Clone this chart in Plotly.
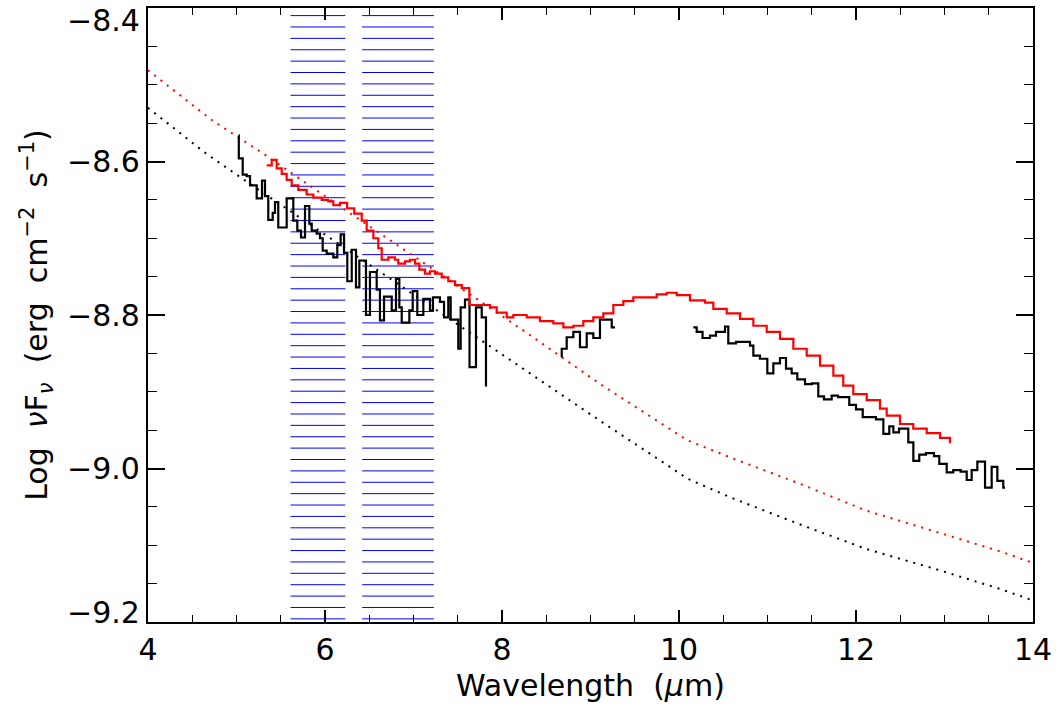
import numpy as np
import plotly.graph_objects as go

# ---- Dotted model curves (photospheres) ----
model_black_wl = [4.00, 4.66, 5.10, 6.06, 6.95, 7.85, 8.30, 9.11, 9.86, 10.09, 10.61, 11.37, 12.12, 12.87, 13.63, 14.00]
model_black_f = [-8.530, -8.590, -8.625, -8.700, -8.769, -8.840, -8.874, -8.938, -8.995, -9.013, -9.039, -9.073, -9.105, -9.130, -9.157, -9.172]
model_red_wl = [4.00, 4.72, 5.32, 6.06, 7.10, 8.29, 9.11, 9.86, 10.09, 10.61, 11.37, 12.12, 12.87, 13.63, 14.00]
model_red_f = [-8.481, -8.546, -8.591, -8.650, -8.731, -8.824, -8.890, -8.946, -8.963, -8.987, -9.020, -9.055, -9.081, -9.108, -9.123]

# ---- Black spectrum, segment 1 (bin left edges) ----
blk1_wl = [5.025, 5.026, 5.070, 5.115, 5.153, 5.228, 5.288, 5.322, 5.359, 5.409, 5.435, 5.472,
           5.567, 5.642, 5.687, 5.729, 5.774, 5.823, 5.850, 5.906, 5.944, 5.974, 6.019, 6.094,
           6.139, 6.177, 6.215, 6.252, 6.302, 6.350, 6.388, 6.463, 6.508, 6.584, 6.621, 6.667,
           6.754, 6.802, 6.840, 6.867, 6.953, 6.991, 7.043, 7.111, 7.186, 7.220, 7.299, 7.345,
           7.393, 7.420, 7.506, 7.533, 7.582, 7.633, 7.706, 7.771, 7.819]
blk1_f = [-8.566, -8.596, -8.617, -8.619, -8.631, -8.648, -8.625, -8.645, -8.676, -8.667, -8.653, -8.686,
          -8.648, -8.677, -8.690, -8.699, -8.658, -8.681, -8.690, -8.694, -8.700, -8.716, -8.720, -8.725,
          -8.709, -8.695, -8.719, -8.756, -8.715, -8.764, -8.729, -8.800, -8.744, -8.767, -8.807, -8.776,
          -8.794, -8.753, -8.790, -8.810, -8.794, -8.769, -8.800, -8.779, -8.794, -8.777, -8.783, -8.803,
          -8.777, -8.806, -8.844, -8.790, -8.780, -8.868, -8.790, -8.803, -8.893]

# ---- Black spectrum, segment 2 ----
blk2_wl = [8.663, 8.675, 8.731, 8.806, 8.881, 8.957, 9.032, 9.107, 9.240, 9.277]
blk2_f = [-8.854, -8.844, -8.829, -8.822, -8.842, -8.824, -8.830, -8.806, -8.816, -8.816]

# ---- Black spectrum, segment 3 ----
blk3_wl = [10.162, 10.200, 10.266, 10.350, 10.418, 10.520, 10.557, 10.644, 10.802, 10.840, 10.915,
           10.998, 11.066, 11.141, 11.209, 11.273, 11.337, 11.424, 11.503, 11.574, 11.638, 11.725,
           11.797, 11.924, 12.000, 12.076, 12.226, 12.309, 12.376, 12.422, 12.486, 12.591, 12.648,
           12.715, 12.791, 12.881, 12.941, 13.025, 13.099, 13.183, 13.251, 13.307, 13.371, 13.458,
           13.533, 13.597, 13.664, 13.684]
blk3_f = [-8.816, -8.822, -8.830, -8.827, -8.822, -8.815, -8.837, -8.835, -8.840, -8.853, -8.857,
          -8.876, -8.863, -8.856, -8.870, -8.876, -8.884, -8.890, -8.889, -8.906, -8.910, -8.905,
          -8.907, -8.917, -8.923, -8.933, -8.936, -8.955, -8.945, -8.953, -8.948, -8.966, -8.990,
          -8.982, -8.980, -8.984, -8.994, -9.005, -9.002, -9.004, -9.015, -9.002, -8.991, -9.025,
          -8.998, -9.016, -9.025, -9.025]

# ---- Red spectrum ----
red_wl = [5.341, 5.398, 5.454, 5.511, 5.567, 5.624, 5.698, 5.793, 5.868, 5.963, 6.037, 6.094, 6.169,
          6.250, 6.330, 6.415, 6.471, 6.546, 6.602, 6.641, 6.715, 6.791, 6.828, 6.904, 6.960, 7.017,
          7.066, 7.130, 7.186, 7.243, 7.319, 7.393, 7.469, 7.545, 7.631, 7.864, 7.940, 8.053, 8.128,
          8.279, 8.429, 8.580, 8.693, 8.806, 8.919, 9.032, 9.145, 9.258, 9.371, 9.484, 9.635, 9.748,
          9.861, 9.974, 10.124, 10.294, 10.388, 10.539, 10.689, 10.840, 10.991, 11.141, 11.292,
          11.443, 11.593, 11.744, 11.856, 11.969, 12.121, 12.271, 12.347, 12.497, 12.647, 12.799,
          12.949, 13.062]
red_f = [-8.605, -8.598, -8.609, -8.616, -8.624, -8.631, -8.637, -8.643, -8.647, -8.650, -8.652, -8.657,
         -8.654, -8.661, -8.668, -8.677, -8.690, -8.700, -8.713, -8.728, -8.725, -8.728, -8.733, -8.730,
         -8.728, -8.733, -8.741, -8.746, -8.743, -8.746, -8.751, -8.756, -8.761, -8.765, -8.787, -8.790,
         -8.797, -8.803, -8.800, -8.803, -8.808, -8.811, -8.816, -8.814, -8.808, -8.803, -8.798, -8.787,
         -8.782, -8.777, -8.777, -8.773, -8.771, -8.774, -8.781, -8.784, -8.792, -8.798, -8.805, -8.814,
         -8.822, -8.831, -8.844, -8.853, -8.866, -8.879, -8.892, -8.903, -8.911, -8.922, -8.931, -8.942,
         -8.948, -8.954, -8.960, -8.967]

# ---- Hatched (excluded) wavelength bands ----
band_ranges = [(5.61, 6.23), (6.42, 7.23)]
hatch_levels = np.linspace(-8.4099, -9.1959, 54)

x_ticks = [4, 6, 8, 10, 12, 14]
y_ticks = [-9.2, -9.0, -8.8, -8.6, -8.4]
y_ticktext = ["\u22129.2", "\u22129.0", "\u22128.8", "\u22128.6", "\u22128.4"]

FONT = "DejaVu Sans"
FS = 30

fig = go.Figure()

fig.add_trace(go.Scatter(x=model_black_wl, y=model_black_f, mode="lines",
                         line=dict(color="black", width=2, dash="2px,6px"), hoverinfo="skip"))
fig.add_trace(go.Scatter(x=model_red_wl, y=model_red_f, mode="lines",
                         line=dict(color="red", width=2, dash="2px,6px"), hoverinfo="skip"))

for wl, f in [(blk1_wl, blk1_f), (blk2_wl, blk2_f), (blk3_wl, blk3_f)]:
    fig.add_trace(go.Scatter(x=wl, y=f, mode="lines", line_shape="hv",
                             line=dict(color="black", width=2.2)))

fig.add_trace(go.Scatter(x=red_wl, y=red_f, mode="lines", line_shape="hv",
                         line=dict(color="red", width=2.2)))

shapes = []
for (x0, x1) in band_ranges:
    for yl in hatch_levels:
        shapes.append(dict(type="line", xref="x", yref="y", x0=x0, x1=x1, y0=yl, y1=yl,
                           line=dict(color="blue", width=1), layer="below"))

# y tick labels as annotations (end labels nudged inside the frame, as in the original)
label_shift = {0: 10, 4: -12}
annotations = []
for i, (v, t) in enumerate(zip(y_ticks, y_ticktext)):
    annotations.append(dict(x=0, xref="paper", xanchor="right", xshift=-6,
                            y=v, yref="y", yanchor="middle", yshift=label_shift.get(i, 0),
                            text=t, showarrow=False, font=dict(family=FONT, size=FS, color="black")))

fig.update_layout(
    width=1060, height=717,
    margin=dict(l=148, r=27, t=8, b=95, autoexpand=False),
    paper_bgcolor="white", plot_bgcolor="white",
    showlegend=False,
    shapes=shapes,
    annotations=annotations,
    font=dict(family=FONT, size=FS, color="black"),
)

fig.update_xaxes(
    range=[4, 14], tickvals=x_ticks, ticktext=[str(v) for v in x_ticks],
    automargin=False, ticklabeloverflow="allow",
    showgrid=False, zeroline=False,
    showline=True, linecolor="black", linewidth=1.5, mirror="ticks",
    ticks="inside", ticklen=12, tickwidth=1.5, tickcolor="black",
    minor=dict(dtick=0.5, ticks="inside", ticklen=7, tickwidth=1.2, tickcolor="black", showgrid=False),
    tickfont=dict(family=FONT, size=FS),
    title=dict(text="Wavelength\u00a0 (<i>μ</i>m)", font=dict(family=FONT, size=FS), standoff=9),
)
fig.update_yaxes(
    range=[-9.2, -8.4], tickvals=y_ticks, showticklabels=False,
    automargin=False,
    showgrid=False, zeroline=False,
    showline=True, linecolor="black", linewidth=1.5, mirror="ticks",
    ticks="inside", ticklen=17, tickwidth=1.5, tickcolor="black",
    minor=dict(dtick=0.05, ticks="inside", ticklen=9, tickwidth=1.2, tickcolor="black", showgrid=False),
    title=dict(text="Log\u00a0 <i>ν</i>F<sub><i>ν</i></sub>\u00a0 (erg\u00a0 cm<sup>−2</sup>\u00a0 s<sup>−1</sup>)",
               font=dict(family=FONT, size=FS), standoff=90),
)

fig.write_html("out.html", config={"displayModeBar": False},
               post_script="document.body.style.margin='0';")
